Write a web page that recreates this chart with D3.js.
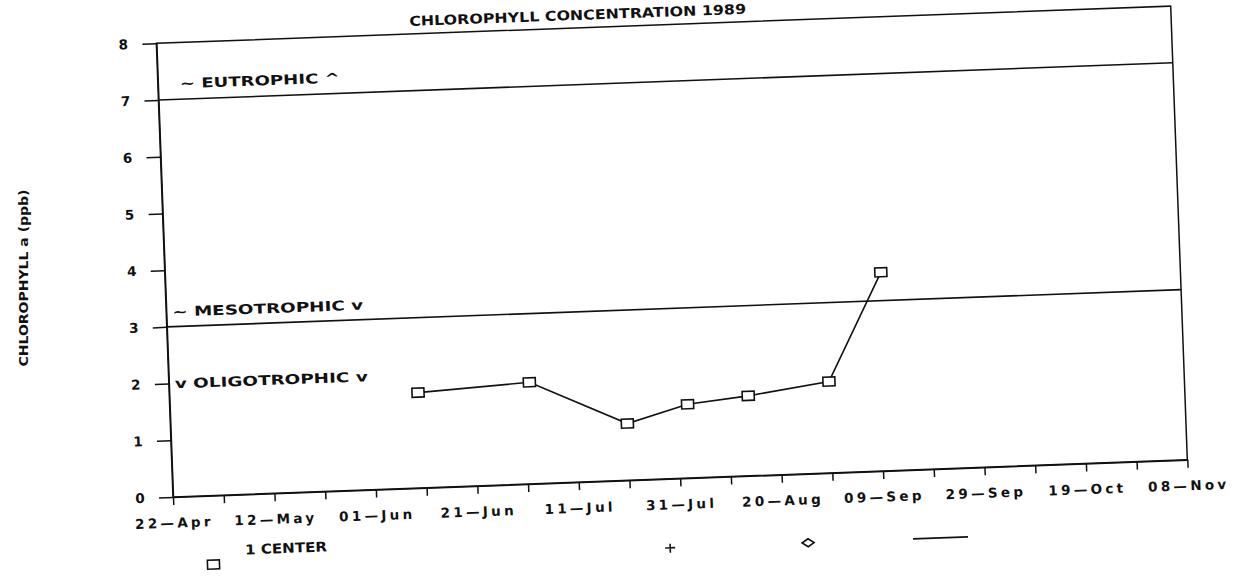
<!DOCTYPE html>
<html>
<head>
<meta charset="utf-8">
<script src="https://cdn.jsdelivr.net/npm/d3@7"></script>
<style>
  body { margin: 0; background: #fff; }
  text { font-family: "DejaVu Sans", sans-serif; font-weight: bold; fill: #111; }
</style>
</head>
<body>
<script>
// chart data
var sampleDates = ["1989-06-10", "1989-07-02", "1989-07-21", "1989-08-02", "1989-08-14", "1989-08-30", "1989-09-10"];
var chlValues = [1.68, 1.79, 1.00, 1.30, 1.41, 1.61, 3.50];

var xTickLabels = ["22—Apr", "12—May", "01—Jun", "21—Jun", "11—Jul", "31—Jul", "20—Aug", "09—Sep", "29—Sep", "19—Oct", "08—Nov"];
var yTickValues = [0, 1, 2, 3, 4, 5, 6, 7, 8];

var zoneValues = [7, 3];
var zoneLabels = ["~ EUTROPHIC ^", "~ MESOTROPHIC v", "v OLIGOTROPHIC v"];

var legendLabels = ["1 CENTER"];

// svg area
var svgWidth = 1236;
var svgHeight = 576;

// plot frame (the scan is tilted by about 2 degrees)
var chartWidth = 1015;
var chartHeight = 454;

var svg = d3
    .select("body")
    .append("svg")
    .attr("width", svgWidth)
    .attr("height", svgHeight);

var chart = svg.append("g")
    .attr("transform", "translate(173,497) rotate(-2.1) translate(0," + (-chartHeight) + ")");

var parseDate = d3.utcParse("%Y-%m-%d");
var startDate = parseDate("1989-04-22");
var endDate = parseDate("1989-11-08");

var xScale = d3.scaleUtc()
    .domain([startDate, endDate])
    .range([0, chartWidth]);

var yScale = d3.scaleLinear()
    .domain([0, 8])
    .range([chartHeight, 0]);

// ticks every 10 days, label every other one
var tickDates = d3.utcDay.range(startDate, d3.utcDay.offset(endDate, 1), 10);

// frame
chart.append("rect")
    .attr("x", 0)
    .attr("y", 0)
    .attr("width", chartWidth)
    .attr("height", chartHeight)
    .attr("fill", "none")
    .attr("stroke", "#111")
    .attr("stroke-width", 1.5);

// trophic boundary lines
chart.selectAll(".zone-line")
    .data(zoneValues)
    .enter()
    .append("line")
    .attr("class", "zone-line")
    .attr("x1", 0)
    .attr("x2", chartWidth)
    .attr("y1", d => yScale(d))
    .attr("y2", d => yScale(d))
    .attr("stroke", "#111")
    .attr("stroke-width", 1.6);

// zone labels
chart.append("text")
    .attr("x", 22)
    .attr("y", yScale(7) - 11)
    .attr("textLength", 160)
    .attr("lengthAdjust", "spacingAndGlyphs")
    .style("font-size", "13.5px")
    .text(zoneLabels[0]);

chart.append("text")
    .attr("x", 6)
    .attr("y", yScale(3) - 10)
    .attr("textLength", 191)
    .attr("lengthAdjust", "spacingAndGlyphs")
    .style("font-size", "13.5px")
    .text(zoneLabels[1]);

chart.append("text")
    .attr("x", 6)
    .attr("y", yScale(2) + 5)
    .attr("textLength", 193)
    .attr("lengthAdjust", "spacingAndGlyphs")
    .style("font-size", "13.5px")
    .text(zoneLabels[2]);

// axes
var bottomAxis = d3.axisBottom(xScale)
    .tickValues(tickDates)
    .tickSize(8)
    .tickSizeOuter(0)
    .tickFormat((d, i) => (i % 2 == 0 ? xTickLabels[i / 2] : ""));

var leftAxis = d3.axisLeft(yScale)
    .tickValues(yTickValues)
    .tickSize(14)
    .tickSizeOuter(0)
    .tickFormat(d3.format("d"));

var xAxis = chart.append("g")
    .attr("transform", "translate(0," + chartHeight + ")")
    .call(bottomAxis);

xAxis.selectAll("text")
    .attr("y", 21)
    .style("font-size", "13.5px")
    .style("letter-spacing", "3.3px");

var yAxis = chart.append("g")
    .call(leftAxis);

yAxis.selectAll("text")
    .attr("x", -33)
    .attr("text-anchor", "middle")
    .style("font-size", "13.5px");

chart.selectAll(".domain, .tick line")
    .attr("stroke", "#111")
    .attr("stroke-width", 1.5);
chart.selectAll(".tick text").attr("fill", "#111");

// title
chart.append("text")
    .attr("x", 422)
    .attr("y", -8)
    .attr("text-anchor", "middle")
    .attr("textLength", 337)
    .attr("lengthAdjust", "spacingAndGlyphs")
    .style("font-size", "13.5px")
    .text("CHLOROPHYLL CONCENTRATION 1989");

// series line
var points = sampleDates.map((d, i) => ({ date: parseDate(d), value: chlValues[i] }));

var line = d3.line()
    .x(d => xScale(d.date))
    .y(d => yScale(d.value));

chart.append("path")
    .datum(points)
    .attr("d", line)
    .attr("fill", "none")
    .attr("stroke", "#111")
    .attr("stroke-width", 1.6);

chart.selectAll(".marker")
    .data(points)
    .enter()
    .append("rect")
    .attr("class", "marker")
    .attr("x", d => xScale(d.date) - 6)
    .attr("y", d => yScale(d.value) - 4.5)
    .attr("width", 12)
    .attr("height", 9)
    .attr("fill", "#fff")
    .attr("stroke", "#111")
    .attr("stroke-width", 1.6);

// legend
var legend = chart.append("g")
    .attr("transform", "translate(0," + (chartHeight + 69) + ")");

legend.append("rect")
    .attr("x", 32)
    .attr("y", -4.5)
    .attr("width", 12)
    .attr("height", 9)
    .attr("fill", "#fff")
    .attr("stroke", "#111")
    .attr("stroke-width", 1.6);

legend.append("text")
    .attr("x", 70)
    .attr("y", -9)
    .attr("textLength", 82)
    .attr("lengthAdjust", "spacingAndGlyphs")
    .style("font-size", "13.5px")
    .text(legendLabels[0]);

// plus
legend.append("path")
    .attr("d", "M490,0H500M495,-4V5")
    .attr("stroke", "#111")
    .attr("stroke-width", 1.6);

// diamond
legend.append("path")
    .attr("d", "M627,0L633,-4L639,0L633,4Z")
    .attr("fill", "none")
    .attr("stroke", "#111")
    .attr("stroke-width", 1.6);

legend.append("line")
    .attr("x1", 738)
    .attr("x2", 793)
    .attr("y1", 0)
    .attr("y2", 0)
    .attr("stroke", "#111")
    .attr("stroke-width", 1.6);

// y axis title (not tilted in the scan)
svg.append("text")
    .attr("transform", "translate(28,278) rotate(-90)")
    .attr("text-anchor", "middle")
    .attr("textLength", 177)
    .attr("lengthAdjust", "spacingAndGlyphs")
    .style("font-size", "12px")
    .text("CHLOROPHYLL a (ppb)");
</script>
</body>
</html>
